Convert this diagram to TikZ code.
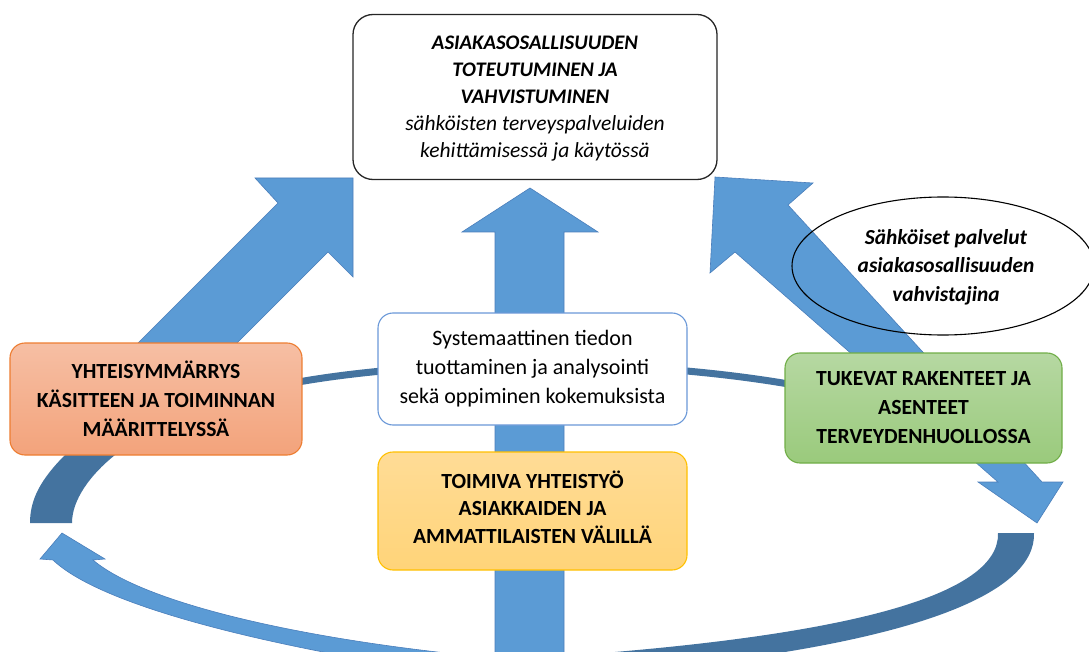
\documentclass[tikz,border=0pt]{standalone}
\usepackage{fontspec}
\setmainfont{Carlito}
\usetikzlibrary{shapes.geometric}
\definecolor{lblue}{HTML}{5B9BD5}
\definecolor{dblue}{HTML}{44739F}
\definecolor{eblue}{HTML}{4A7EBB}
\definecolor{orT}{HTML}{F6BFA4}
\definecolor{orB}{HTML}{F3A37B}
\definecolor{orD}{HTML}{ED7D31}
\definecolor{yeT}{HTML}{FFDC96}
\definecolor{yeB}{HTML}{FFD479}
\definecolor{yeD}{HTML}{FFC000}
\definecolor{grT}{HTML}{B6D8A2}
\definecolor{grB}{HTML}{9ACA7C}
\definecolor{grD}{HTML}{70AD47}
\definecolor{wbD}{HTML}{6A98D8}
\tikzset{
  arrowfill/.style={fill=lblue, draw=eblue, line width=0.6pt},
  box/.style={rounded corners=15pt, line width=1.1pt, align=center, inner sep=2pt,
     font=\fontsize{22}{29}\selectfont},
  capsfont/.style={font=\fontsize{21.6}{29}\selectfont\bfseries},
}
\begin{document}
\begin{tikzpicture}[x=1pt,y=-1pt]
\useasboundingbox (0,0) rectangle (1089,652);
\clip (0,0) rectangle (1089,652);

% thin back arc of the ring
\coordinate (ra) at (250,392);
\coordinate (rb) at (830,392);
\draw[dblue, line width=7pt] (ra) .. controls (400,355) and (660,355) .. (rb);

% left dark band
\fill[dblue] (30,523) .. controls (30,500) and (40,480) .. (65,455) -- (110,410)
  -- (150,425) -- (115,455) .. controls (90,475) and (72,500) .. (72,523) -- cycle;

% bottom left light band with arrowhead
\filldraw[arrowfill] (62,533) -- (105,559) -- (93,560)
  .. controls (140,600) and (280,635) .. (455,654) -- (440,672)
  .. controls (260,645) and (100,605) .. (53,560) -- (40,559) -- cycle;

% bottom right dark band
\fill[dblue] (998,533) -- (1034,533) .. controls (1036,595) and (910,640) .. (690,665)
  -- (615,652) .. controls (850,632) and (1000,595) .. (998,533) -- cycle;

% central vertical arrow
\filldraw[arrowfill] (495,670) -- (495,232) -- (462,232) -- (530,188) -- (598,232)
  -- (564,232) -- (564,670) -- cycle;

% left diagonal arrow
\filldraw[arrowfill] (353,178) -- (353,277) -- (328,252) -- (200,380) -- (101,380)
  -- (278,203) -- (255,178) -- cycle;

% right double arrow
\filldraw[arrowfill] (715,177) -- (813,183) -- (788,205) -- (1042,482) -- (1063,482)
  -- (1037,523) -- (978,482) -- (998,482) -- (735,252) -- (710,273) -- cycle;

% boxes
\node[box, rounded corners=20pt, draw=black!85, fill=white, line width=1.3pt,
  minimum width=364pt, minimum height=165pt] (top) at (535,97) {};
\node[align=center, font=\fontsize{21.5}{27}\selectfont\itshape] (toptxt) at (535,99)
  {\textbf{\fontsize{20.7}{27}\selectfont ASIAKASOSALLISUUDEN}\\\textbf{\fontsize{20.7}{27}\selectfont TOTEUTUMINEN JA}\\\textbf{\fontsize{20.7}{27}\selectfont VAHVISTUMINEN}\\sähköisten terveyspalveluiden\\kehittämisessä ja käytössä};

\node[box, draw=orD, top color=orT, bottom color=orB, capsfont,
  minimum width=292pt, minimum height=112pt]
  (ora) at (156,399)
  {YHTEISYMMÄRRYS\\KÄSITTEEN JA TOIMINNAN\\MÄÄRITTELYSSÄ};

\node[box, draw=wbD, fill=white,
  minimum width=309pt, minimum height=112pt]
  (wht) at (532.5,369)
  {Systemaattinen tiedon\\tuottaminen ja analysointi\\sekä oppiminen kokemuksista};

\node[box, draw=yeD, top color=yeT, bottom color=yeB,
  minimum width=309pt, minimum height=118pt] (yel) at (532.5,511) {};
\node[align=center, font=\fontsize{21.6}{27.5}\selectfont\bfseries] (yeltxt) at (532.5,507)
  {TOIMIVA YHTEISTYÖ\\ASIAKKAIDEN JA\\AMMATTILAISTEN VÄLILLÄ};

\node[box, draw=grD, top color=grT, bottom color=grB, capsfont,
  minimum width=277pt, minimum height=110pt]
  (grn) at (923.5,408)
  {TUKEVAT RAKENTEET JA\\ASENTEET\\TERVEYDENHUOLLOSSA};

\node[ellipse, draw=black, line width=1.1pt, minimum width=302pt, minimum height=138pt,
  inner sep=0pt] (ell) at (943,266) {};
\node[align=center, font=\fontsize{21.4}{28.5}\selectfont\bfseries\itshape] (elltxt) at (946,267)
  {Sähköiset palvelut\\asiakasosallisuuden\\vahvistajina};
\end{tikzpicture}
\end{document}
